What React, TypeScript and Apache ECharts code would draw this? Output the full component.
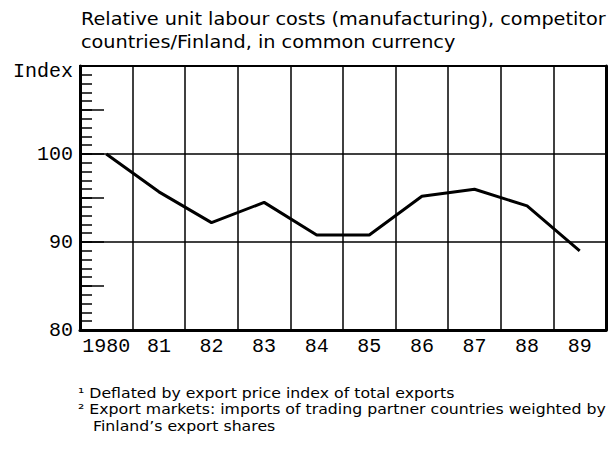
import React, { useEffect, useRef } from "react";
import * as echarts from "echarts";

const years = ["1980", "81", "82", "83", "84", "85", "86", "87", "88", "89"];
const relativeCosts = [100, 95.7, 92.2, 94.5, 90.8, 90.8, 95.2, 96.0, 94.1, 89.0];
const titleLines = [
  "Relative unit labour costs (manufacturing), competitor",
  "countries/Finland, in common currency",
];
const footnotes = [
  "¹ Deflated by export price index of total exports",
  "² Export markets: imports of trading partner countries weighted by",
  "   Finland’s export shares",
];

export default function App() {
  const ref = useRef<HTMLDivElement>(null);
  useEffect(() => {
    if (!ref.current) return;
    const chart = echarts.init(ref.current, null, { renderer: "svg" });
    const mono = "Liberation Mono";
    const sans = "DejaVu Sans";
    chart.setOption({
      animation: false,
      backgroundColor: "#fff",
      grid: {
        left: 80,
        right: 5,
        top: 66,
        bottom: 119,
        show: true,
        borderColor: "#000",
        borderWidth: 2,
      },
      xAxis: {
        type: "category",
        data: years,
        boundaryGap: true,
        axisLine: { lineStyle: { color: "#000", width: 3 } },
        axisTick: { show: false },
        splitLine: { show: true, interval: 0, lineStyle: { color: "#000", width: 1.5 } },
        axisLabel: { color: "#000", fontFamily: mono, fontSize: 20, margin: 6, interval: 0 },
      },
      yAxis: [
        {
          type: "value",
          min: 80,
          max: 110,
          interval: 10,
          axisLine: { show: true, lineStyle: { color: "#000", width: 3 } },
          axisTick: { show: true, inside: true, length: 12, lineStyle: { color: "#000", width: 1.5 } },
          minorTick: { show: true, splitNumber: 10, length: 12, lineStyle: { color: "#000", width: 1.5 } },
          splitLine: { show: true, lineStyle: { color: "#000", width: 1.5 } },
          axisLabel: {
            color: "#000",
            fontFamily: mono,
            fontSize: 20,
            margin: 7,
            formatter: (v: number) => (v === 110 ? "" : String(v)),
          },
        },
        {
          type: "value",
          min: 80,
          max: 110,
          interval: 5,
          position: "left",
          axisLine: { show: false },
          axisTick: { show: true, inside: true, length: 24, lineStyle: { color: "#000", width: 1.5 } },
          splitLine: { show: false },
          axisLabel: { show: false },
        },
        {
          type: "value",
          min: 80,
          max: 110,
          interval: 10,
          position: "right",
          axisLine: { show: true, lineStyle: { color: "#000", width: 3 } },
          axisTick: { show: false },
          splitLine: { show: false },
          axisLabel: { show: false },
        },
      ],
      graphic: [
        {
          type: "text",
          x: 81,
          y: 7,
          scaleX: 1.07,
          style: {
            text: titleLines.join("\n"),
            font: `18px "${sans}"`,
            fill: "#000",
            lineHeight: 23,
          },
        },
        {
          type: "text",
          x: 73,
          y: 61,
          style: { text: "Index", font: `20px "${mono}"`, fill: "#000", align: "right" },
        },
        {
          type: "text",
          x: 78,
          y: 385,
          scaleX: 1.125,
          style: {
            text: footnotes.join("\n"),
            font: `14px "${sans}"`,
            fill: "#000",
            lineHeight: 16.5,
          },
        },
      ],
      series: [
        {
          type: "line",
          data: relativeCosts,
          yAxisIndex: 0,
          symbol: "none",
          lineStyle: { color: "#000", width: 3 },
        },
      ],
    });
    return () => chart.dispose();
  }, []);
  return (
    <div
      ref={ref}
      style={{ position: "absolute", left: 0, top: 0, width: 611, height: 449 }}
    />
  );
}
